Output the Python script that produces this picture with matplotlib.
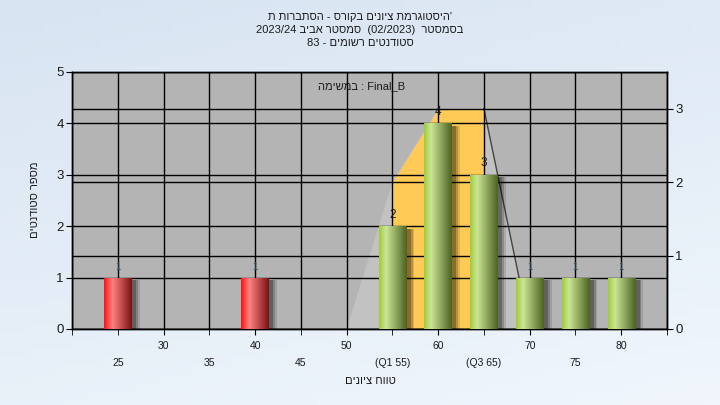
import numpy as np
import matplotlib
matplotlib.use("Agg")
import matplotlib.pyplot as plt
from matplotlib.colors import to_rgb
import re

plt.rcParams['font.family'] = ['Liberation Sans', 'DejaVu Sans']

# data
grades = [25, 40, 55, 60, 65, 70, 75, 80]
students = [1, 1, 2, 4, 3, 1, 1, 1]
failing = [True, True, False, False, False, False, False, False]

curve_x = [50, 55, 60, 65, 70]
curve_y = [0, 2, 3, 3, 0]
q1, q3 = 55, 65

major_ticks = [30, 40, 50, 60, 70, 80]
minor_ticks = [20, 25, 35, 45, 55, 65, 75, 85]
minor_labels = ['', '25', '35', '45', '(Q1 55)', '(Q3 65)', '75', '']

title_lines = ["'היסטוגרמת ציונים בקורס - הסתברות ת",
               "בסמסטר  (02/2023)  סמסטר אביב 2023/24",
               "סטודנטים רשומים - 83"]
y_title = "מספר סטודנטים"
x_title = "טווח ציונים"
task_note = "Final_B : במשימה"


def visual(s):
    # crude right-to-left reordering: keep latin/digit runs, reverse the rest
    tokens = re.findall(r"[A-Za-z0-9_/.]+|.", s)
    mirror = {'(': ')', ')': '('}
    return ''.join(mirror.get(t, t) for t in reversed(tokens))


def gradient_fill(ax, patch, stops, colors):
    x0, y0 = patch.get_x(), patch.get_y()
    w, h = patch.get_width(), patch.get_height()
    t = np.linspace(0, 1, 64)
    rgb = np.array([to_rgb(c) for c in colors])
    img = np.stack([np.interp(t, stops, rgb[:, k]) for k in range(3)], axis=-1)[None, :, :]
    im = ax.imshow(img, extent=[x0, x0 + w, y0, y0 + h], aspect='auto',
                   zorder=patch.get_zorder(), interpolation='bilinear')
    im.set_clip_path(patch)


fig = plt.figure(figsize=(7.2, 4.05), dpi=100)

bg = fig.add_axes([0, 0, 1, 1], zorder=-5)
gy, gx = np.mgrid[0:1:50j, 0:1:50j]
shade = 0.35 * gy + 0.15 * gx
top_c = np.array(to_rgb('#d8e4f2'))
bot_c = np.array(to_rgb('#f0f6fc'))
bg.imshow(top_c + (bot_c - top_c) * shade[..., None] / shade.max(), aspect='auto',
          extent=[0, 1, 0, 1])
bg.axis('off')

ax = fig.add_axes([0.1, 0.1877, 0.8264, 0.6346])
ax2 = ax.twinx()
ax.set_zorder(2)
ax2.set_zorder(1)
ax.patch.set_visible(False)
ax2.patch.set_visible(True)
ax2.set_facecolor('#b4b4b4')

# secondary distribution polygon
ax2.fill(curve_x, curve_y, color='#c2c2c2', zorder=1, lw=0)
cx = np.array(curve_x)
cy = np.array(curve_y)
iq = (cx >= q1) & (cx <= q3)
ax2.fill_between(cx[iq], cy[iq], color='#ffca55', zorder=1.2, lw=0)
ax2.plot(curve_x[3:], curve_y[3:], color='#444444', lw=1, zorder=1.3)
ax2.set_ylim(0, 3.5)
ax2.set_yticks([0, 1, 2, 3])
ax2.set_axisbelow(False)
ax2.grid(True, axis='y', color='black', lw=1)
ax2.text(0.487, 0.945, visual(task_note), transform=ax2.transAxes, ha='center',
         va='center', fontsize=8, color='#1a1a1a', zorder=1.4)

# shadows
for dx, a in [(0.9, 0.12), (0.7, 0.18), (0.5, 0.25)]:
    ax.bar(np.array(grades) + dx, students, width=3, bottom=-0.05, color='black',
           alpha=a, lw=0, zorder=2.5)

bars = ax.bar(grades, students, width=3, zorder=3, lw=0)
for b, f, v in zip(bars, failing, students):
    b.set_facecolor('none')
    if f:
        gradient_fill(ax, b, [0, 0.3, 1], ['#ff1414', '#ff8282', '#7a1212'])
    else:
        gradient_fill(ax, b, [0, 0.25, 1], ['#9ecb3c', '#cbe795', '#4c6222'])
    ax.annotate(str(v), (b.get_x() + b.get_width() / 2, v), xytext=(0, 4),
                textcoords='offset points', ha='center', va='bottom',
                fontsize=8.5 if v > 1 else 7, color='#1a1a1a' if v > 1 else '#33556a',
                zorder=4)

ax.set_xlim(20, 85)
ax.set_ylim(0, 5)
ax.set_yticks(range(6))
ax.set_xticks(major_ticks)
ax.set_xticks(minor_ticks, minor=True)
ax.set_xticklabels([str(t) for t in major_ticks])
ax.set_xticklabels(minor_labels, minor=True)
ax.set_axisbelow(True)
ax.grid(True, which='both', color='black', lw=1)

ax.tick_params(axis='x', which='major', length=4, pad=5, labelsize=7.5, labelcolor='#1a1a1a')
ax.tick_params(axis='x', which='minor', length=4, pad=17, labelsize=7.5, labelcolor='#1a1a1a')
ax.tick_params(axis='y', length=4, pad=2, labelsize=9.5, labelcolor='#1a1a1a')
ax2.tick_params(axis='y', length=4, pad=2, labelsize=9.5, labelcolor='#1a1a1a')
for a in (ax, ax2):
    for s in a.spines.values():
        s.set_color('black')
        s.set_linewidth(1)

for i, line in enumerate(title_lines):
    fig.text(0.5, 1 - (17 + 13 * i) / 405, visual(line), ha='center', va='center',
             fontsize=8, color='#1a1a1a')
fig.text(35 / 720, 1 - 200 / 405, visual(y_title), rotation=90, ha='center',
         va='center', fontsize=8, color='#1a1a1a')
fig.text(370 / 720, 1 - 381 / 405, visual(x_title), ha='center', va='center',
         fontsize=8, color='#1a1a1a')

fig.savefig('out.png', dpi=100)
